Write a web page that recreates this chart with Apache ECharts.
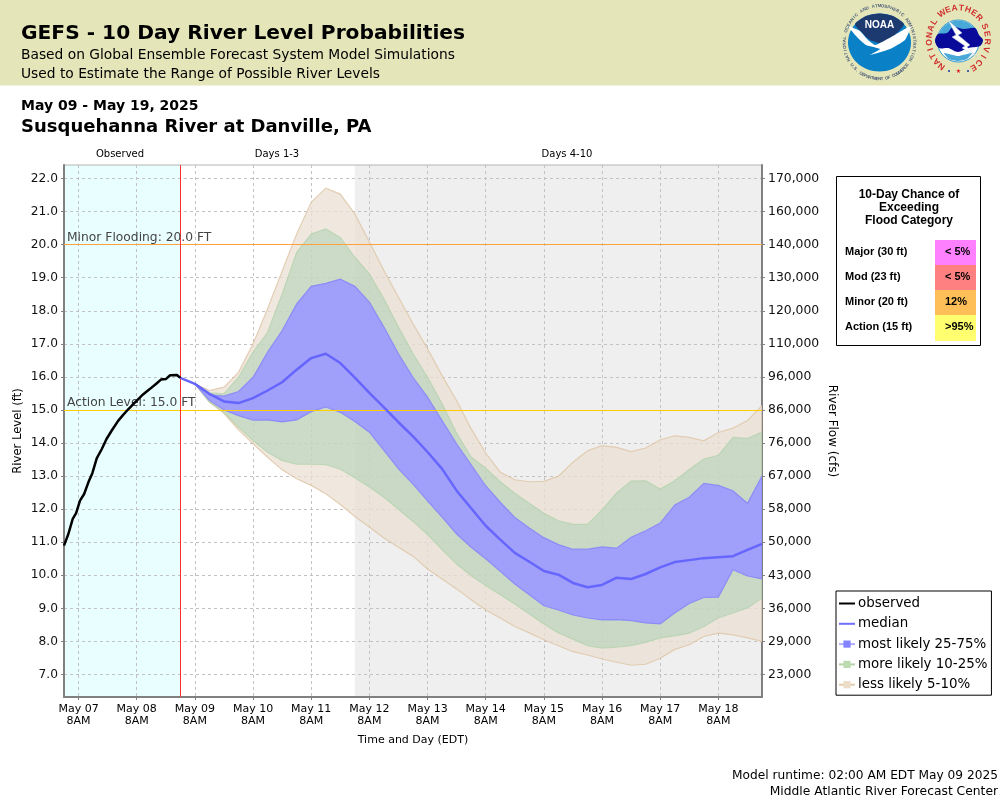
<!DOCTYPE html>
<html>
<head>
<meta charset="utf-8">
<title>GEFS River Level Probabilities</title>
<script src="https://cdn.jsdelivr.net/npm/echarts@6/dist/echarts.min.js"></script>
<style>
  html, body { margin: 0; padding: 0; background: #fff; }
  #chart { width: 1000px; height: 800px; }
</style>
</head>
<body>
<div id="chart"></div>
<script>
// x values are hours since May 07 02:00 EDT
var stageTicks = [7, 8, 9, 10, 11, 12, 13, 14, 15, 16, 17, 18, 19, 20, 21, 22];
var flowLabels = ["23,000", "29,000", "36,000", "43,000", "50,000", "58,000", "67,000", "76,000",
  "86,000", "96,000", "110,000", "120,000", "130,000", "140,000", "160,000", "170,000"];
var timeTicks = [6, 30, 54, 78, 102, 126, 150, 174, 198, 222, 246, 270];
var timeLabels = ["May 07\n8AM", "May 08\n8AM", "May 09\n8AM", "May 10\n8AM", "May 11\n8AM", "May 12\n8AM",
  "May 13\n8AM", "May 14\n8AM", "May 15\n8AM", "May 16\n8AM", "May 17\n8AM", "May 18\n8AM"];

var obsHours = [0, 1.8, 3.6, 5, 6.6, 8.3, 10.1, 11.7, 13.5, 15.6, 17.6, 19.7, 22.4, 24.5, 26.6, 29.3,
  32.6, 35.5, 38.3, 40, 42.1, 43.8, 46.6, 48];
var obsLevel = [10.9, 11.25, 11.71, 11.88, 12.26, 12.46, 12.82, 13.09, 13.54, 13.82, 14.13, 14.38, 14.68,
  14.86, 15.03, 15.23, 15.47, 15.64, 15.81, 15.92, 15.94, 16.05, 16.06, 15.97];

var fcstHours = [48, 54, 60, 66, 72, 78, 84, 90, 96, 102, 108, 114, 120, 126, 132, 138, 144, 150, 156, 162, 168,
  174, 180, 186, 192, 198, 204, 210, 216, 222, 228, 234, 240, 246, 252, 258, 264, 270, 276, 282, 288];
var tanTop = [15.97, 15.79, 15.59, 15.69, 16.14, 17.0, 18.06, 19.2, 20.32, 21.28, 21.71, 21.53, 20.93, 20.08,
  19.22, 18.41, 17.61, 16.85, 16.04, 15.28, 14.43, 13.7, 13.12, 12.89, 12.83, 12.84, 13.0, 13.42, 13.77, 13.92,
  13.87, 13.74, 13.85, 14.1, 14.22, 14.17, 14.07, 14.32, 14.45, 14.68, 15.13];
var greenTop = [15.97, 15.79, 15.52, 15.49, 15.99, 16.75, 17.35, 18.51, 19.77, 20.32, 20.48, 20.22, 19.62, 19.12,
  18.36, 17.51, 16.7, 15.99, 15.19, 14.3, 13.58, 13.24, 12.83, 12.48, 12.18, 11.88, 11.65, 11.54, 11.54, 11.98,
  12.49, 12.85, 12.86, 12.61, 12.86, 13.2, 13.52, 13.63, 14.17, 14.14, 14.34];
var blueTop = [15.97, 15.79, 15.46, 15.42, 15.56, 15.99, 16.75, 17.4, 18.21, 18.74, 18.83, 18.96, 18.74, 18.26,
  17.51, 16.7, 15.99, 15.39, 14.68, 13.98, 13.34, 12.71, 12.21, 11.75, 11.43, 11.14, 10.93, 10.79, 10.79, 10.86,
  10.82, 11.15, 11.35, 11.58, 12.13, 12.36, 12.78, 12.72, 12.56, 12.18, 13.0];
var median = [15.97, 15.79, 15.49, 15.26, 15.21, 15.36, 15.59, 15.84, 16.22, 16.57, 16.7, 16.42, 15.98, 15.52,
  15.08, 14.63, 14.2, 13.73, 13.22, 12.56, 12.03, 11.5, 11.08, 10.68, 10.41, 10.13, 10.02, 9.77, 9.64, 9.71,
  9.93, 9.89, 10.04, 10.24, 10.4, 10.46, 10.52, 10.55, 10.58, 10.77, 10.95];
var blueBottom = [15.97, 15.79, 15.29, 15.0, 14.83, 14.69, 14.7, 14.64, 14.7, 14.95, 15.09, 14.93, 14.65, 14.33,
  13.78, 13.22, 12.76, 12.25, 11.76, 11.25, 10.85, 10.5, 10.12, 9.74, 9.41, 9.08, 8.95, 8.8, 8.71, 8.65,
  8.66, 8.63, 8.56, 8.53, 8.86, 9.15, 9.33, 9.34, 10.17, 9.98, 9.89];
var greenBottom = [15.97, 15.79, 15.24, 14.93, 14.48, 14.08, 13.72, 13.47, 13.36, 13.36, 13.35, 13.21, 12.95, 12.67,
  12.36, 12.0, 11.63, 11.23, 10.78, 10.34, 9.99, 9.69, 9.41, 9.13, 8.83, 8.53, 8.26, 8.07, 7.87, 7.8,
  7.83, 7.87, 7.97, 8.11, 8.17, 8.25, 8.45, 8.71, 8.86, 9.01, 9.31];
var tanBottom = [15.97, 15.79, 15.24, 14.9, 14.4, 13.98, 13.57, 13.19, 12.92, 12.72, 12.47, 12.14, 11.78, 11.46,
  11.13, 10.85, 10.58, 10.19, 9.89, 9.59, 9.26, 8.95, 8.71, 8.45, 8.26, 8.05, 7.87, 7.69, 7.59, 7.47,
  7.37, 7.28, 7.31, 7.49, 7.76, 7.9, 8.15, 8.25, 8.2, 8.11, 8.0];

var floodLabels = ["Major (30 ft)", "Mod (23 ft)", "Minor (20 ft)", "Action (15 ft)"];
var floodChances = ["< 5%", "< 5%", "12%", ">95%"];
var floodColors = ["#ff80ff", "#ff8080", "#ffbf58", "#ffff70"];

var FONT = "DejaVu Sans";
var ARIAL = "Liberation Sans";
var chart = echarts.init(document.getElementById("chart"));

function text(x, y, str, size, opt) {
  opt = opt || {};
  return {
    type: "text", x: x, y: y, rotation: opt.rotation || 0, z: 10,
    style: {
      text: str, fill: opt.color || "#000", font: (opt.bold ? "bold " : "") + size + "px '" + (opt.family || FONT) + "'",
      align: opt.align || "left", verticalAlign: "middle", lineHeight: opt.lineHeight
    }
  };
}

// one character at a time around a circle, deg is clockwise from the top
function arcText(cx, cy, rx, ry, str, from, to, size, color, family, flip) {
  var out = [];
  for (var i = 0; i < str.length; i++) {
    if (str[i] === " ") continue;
    var deg = from + (to - from) * i / (str.length - 1);
    var rad = deg * Math.PI / 180;
    out.push(text(cx + rx * Math.sin(rad), cy - ry * Math.cos(rad), str[i], size, {
      color: color, bold: true, family: family, align: "center",
      rotation: flip ? (180 - deg) * Math.PI / 180 : -rad
    }));
  }
  return out;
}

function blob(points, fill, smooth, extra) {
  var style = { fill: fill };
  if (extra) { style.stroke = extra; style.lineWidth = 0.5; }
  return { type: "polygon", z: 9, shape: { points: points, smooth: smooth || 0 }, style: style };
}

function logoNoaa() {
  var els = [
    { type: "ellipse", z: 9, shape: { cx: 879.5, cy: 42.5, rx: 31.5, ry: 29 }, style: { fill: "#0a80c6" } },
    blob([[855, 24], [866, 16], [879.5, 13.5], [893, 16], [904, 24], [897, 33], [889, 39], [880, 43], [870, 40], [862, 33]], "#1d3a70", 0.2),
    blob([[848, 26], [860, 31], [868, 40], [875, 45], [880, 43], [893, 36], [911, 26], [905, 40], [890, 49], [870, 55], [880, 49], [866, 45], [857, 37]], "#fff", 0.15),
    text(879.5, 25, "NOAA", 10, { bold: true, color: "#fff", align: "center", family: ARIAL })
  ];
  return els
    .concat(arcText(879.5, 42.5, 35, 36.5, "NATIONAL OCEANIC AND ATMOSPHERIC ADMINISTRATION", -118, 118, 4.4, "#50607a", ARIAL))
    .concat(arcText(879.5, 42.5, 35, 36.5, "U.S. DEPARTMENT OF COMMERCE", 232, 128, 4.4, "#50607a", ARIAL, true));
}

function logoNws() {
  var els = [
    { type: "circle", z: 9, shape: { cx: 958.3, cy: 41, r: 21 }, style: { fill: "#fff", stroke: "#2f9ad0", lineWidth: 1 } },
    { type: "sector", z: 9, shape: { cx: 958.3, cy: 41, r: 20.5, startAngle: Math.PI, endAngle: 2 * Math.PI }, style: { fill: "#48a8d8" } },
    blob([[935, 41], [938, 34], [947, 33], [953, 27], [964, 29], [975, 28], [979, 35], [983, 40], [980, 46], [968, 48], [958, 52], [948, 48], [939, 48]], "#0a0a9a", 0.3),
    blob([[948, 20], [962, 33], [958, 35], [970, 45], [967, 47], [977, 57], [962, 48], [965, 46], [952, 37], [956, 35]], "#fff", 0, "#bbccdd"),
    blob([[944, 53], [958, 56], [972, 53], [967, 59], [958, 61], [949, 59]], "#48a8d8", 0.2),
    { type: "circle", z: 9, shape: { cx: 949, cy: 71, r: 1 }, style: { fill: "#1838a0" } },
    { type: "circle", z: 9, shape: { cx: 968, cy: 71, r: 1 }, style: { fill: "#1838a0" } },
    text(958.5, 71.5, "\u2605", 6, { color: "#d82020", align: "center" })
  ];
  return els
    .concat(arcText(958.3, 40, 29, 32, "NATIONAL", -145, -56, 8.5, "#d03030", ARIAL))
    .concat(arcText(958.3, 40, 29, 32, "WEATHER", -34, 46, 8.5, "#d03030", ARIAL))
    .concat(arcText(958.3, 40, 29, 32, "SERVICE", 65, 149, 8.5, "#d03030", ARIAL, false));
}

function floodBox() {
  var els = [
    { type: "rect", z: 9, shape: { x: 836.5, y: 176.5, width: 144, height: 169 }, style: { fill: "#fff", stroke: "#000", lineWidth: 1 } },
    text(909, 195, "10-Day Chance of", 12, { bold: true, family: ARIAL, align: "center" }),
    text(909, 208, "Exceeding", 12, { bold: true, family: ARIAL, align: "center" }),
    text(909, 221, "Flood Category", 12, { bold: true, family: ARIAL, align: "center" })
  ];
  floodLabels.forEach(function(label, i) {
    var top = 240 + i * 25;
    els.push({ type: "rect", z: 9, shape: { x: 935, y: top, width: 41, height: i === 3 ? 26 : 25 }, style: { fill: floodColors[i] } });
    els.push(text(845, top + 11.5, label, 11, { bold: true, family: ARIAL }));
    els.push(text(945, top + 11.5, floodChances[i], 11, { bold: true, family: ARIAL }));
  });
  return els;
}

// draw a whole band once, on its first data item, so the edges stay one shape
function bandRenderer(upper, lower, fill, stroke) {
  return function(params, api) {
    if (params.dataIndex !== 0) return null;
    var pts = [], i;
    for (i = 0; i < fcstHours.length; i++) pts.push(api.coord([fcstHours[i], upper[i]]));
    for (i = fcstHours.length - 1; i >= 0; i--) pts.push(api.coord([fcstHours[i], lower[i]]));
    return { type: "polygon", shape: { points: pts }, style: { fill: fill, stroke: stroke, lineWidth: 1.2 } };
  };
}

function bandSeries(upper, lower, fill, stroke, z) {
  return {
    type: "custom", name: "band" + z, z: z, silent: true, clip: true,
    renderItem: bandRenderer(upper, lower, fill, stroke),
    data: fcstHours.map(function(h, i) { return [h, upper[i], lower[i]]; })
  };
}

function legendKey(name, fill, line) {
  return {
    type: "line", name: name, data: [], symbol: "rect",
    itemStyle: { color: fill }, lineStyle: { color: line, width: 2 }
  };
}

function shadeSeries(data, color) {
  return {
    type: "custom", z: -1, silent: true,
    renderItem: function(params, api) {
      var a = api.coord([api.value(0), 22.41]), b = api.coord([api.value(1), 6.32]);
      return { type: "rect", shape: { x: a[0], y: a[1], width: b[0] - a[0], height: b[1] - a[1] }, style: { fill: color } };
    },
    data: data
  };
}

var gridDash = { color: "#c2c2c2", type: [3, 3], width: 1 };

var option = {
  animation: false,
  textStyle: { fontFamily: FONT },
  grid: {
    left: 64, right: 238, top: 165, bottom: 103, outerBoundsMode: "none",
    show: true, borderColor: "#b4b4b4", borderWidth: 1, backgroundColor: "transparent"
  },
  xAxis: {
    type: "value", min: 0, max: 288,
    name: "Time and Day (EDT)", nameLocation: "middle", nameGap: 38,
    nameTextStyle: { fontSize: 11, color: "#000" },
    axisLine: { lineStyle: { color: "#808080", width: 2 } },
    axisTick: { customValues: timeTicks, length: 3, lineStyle: { color: "#808080" } },
    axisLabel: {
      customValues: timeTicks, fontSize: 11, color: "#000", lineHeight: 12, margin: 6,
      formatter: function(v) { return timeLabels[timeTicks.indexOf(v)]; }
    },
    splitLine: { show: true, lineStyle: gridDash }
  },
  yAxis: [
    {
      type: "value", min: 6.32, max: 22.41, position: "left",
      name: "River Level (ft)", nameLocation: "middle", nameGap: 40, nameMoveOverlap: false,
      nameTextStyle: { fontSize: 11.6, color: "#000" },
      axisLine: { show: true, lineStyle: { color: "#808080", width: 2 } },
      axisTick: { show: true, customValues: stageTicks, length: 3, lineStyle: { color: "#808080" } },
      axisLabel: {
        customValues: stageTicks, fontSize: 12.2, color: "#111", margin: 6,
        formatter: function(v) { return v.toFixed(1); }
      },
      splitLine: { show: true, lineStyle: gridDash }
    },
    {
      type: "value", min: 6.32, max: 22.41, position: "right",
      name: "River Flow (cfs)", nameLocation: "middle", nameGap: 64, nameRotate: -90, nameMoveOverlap: false,
      nameTextStyle: { fontSize: 12, color: "#000" },
      axisLine: { show: true, lineStyle: { color: "#808080", width: 2 } },
      axisTick: { show: true, customValues: stageTicks, length: 3, lineStyle: { color: "#808080" } },
      axisLabel: {
        customValues: stageTicks, fontSize: 12.4, color: "#111", margin: 6,
        formatter: function(v) { return flowLabels[stageTicks.indexOf(v)]; }
      },
      splitLine: { show: false }
    }
  ],
  legend: {
    left: 836, top: 591, orient: "vertical", itemWidth: 16, itemHeight: 9, itemGap: 7.3,
    padding: [6, 4, 4, 2], backgroundColor: "#fff", borderColor: "#000", borderWidth: 1,
    selectedMode: false, textStyle: { fontSize: 13.4, color: "#000", padding: [0, 0, 0, -2] },
    data: [
      { name: "observed", itemStyle: { opacity: 0 } },
      { name: "median", itemStyle: { opacity: 0 } },
      "most likely 25-75%", "more likely 10-25%", "less likely 5-10%"
    ]
  },
  series: [
    shadeSeries([[0, 48]], "#e9ffff"),
    shadeSeries([[120, 288]], "#efefef"),
    bandSeries(tanTop, tanBottom, "rgba(235,224,211,0.75)", "rgba(222,196,165,0.8)", 2),
    bandSeries(greenTop, greenBottom, "rgba(162,203,173,0.45)", "rgba(175,210,170,0.7)", 3),
    bandSeries(blueTop, blueBottom, "rgba(155,153,255,0.9)", "rgba(130,130,250,0.8)", 4),
    {
      type: "line", name: "median", z: 6, symbol: "none", silent: true,
      lineStyle: { color: "rgba(95,95,255,0.9)", width: 2.5 }, itemStyle: { color: "#8c8cff" },
      data: fcstHours.map(function(h, i) { return [h, median[i]]; })
    },
    {
      type: "line", name: "observed", z: 7, symbol: "none", silent: true,
      lineStyle: { color: "#000", width: 2.5 }, itemStyle: { color: "#000" },
      data: obsHours.map(function(h, i) { return [h, obsLevel[i]]; }),
      markLine: {
        silent: true, symbol: "none", z: 5, animation: false,
        label: { position: "insideStartTop", distance: [3, 1], fontSize: 12.3, color: "#444" },
        data: [
          { yAxis: 20, lineStyle: { color: "#ffa23c", width: 1.2, type: "solid" }, label: { formatter: "Minor Flooding: 20.0 FT" } },
          { yAxis: 15, lineStyle: { color: "#ffcc00", width: 1.2, type: "solid" }, label: { formatter: "Action Level: 15.0 FT" } },
          { xAxis: 48, lineStyle: { color: "#ff3030", width: 1, type: "solid" }, label: { show: false } }
        ]
      }
    },
    legendKey("most likely 25-75%", "#8484ff", "#b0b0ff"),
    legendKey("more likely 10-25%", "#bcdcb0", "#b4d4a8"),
    legendKey("less likely 5-10%", "#ecdcc8", "#e4ccb0")
  ],
  graphic: {
    elements: [
      { type: "rect", z: 1, shape: { x: 0, y: 0, width: 1000, height: 85.5 }, style: { fill: "#e4e6b9" } },
      text(21, 34, "GEFS - 10 Day River Level Probabilities", 20.2, { bold: true }),
      text(21, 55, "Based on Global Ensemble Forecast System Model Simulations", 13.8),
      text(21, 74, "Used to Estimate the Range of Possible River Levels", 13.8),
      text(21, 106, "May 09 - May 19, 2025", 14, { bold: true }),
      text(21, 127, "Susquehanna River at Danville, PA", 18, { bold: true }),
      text(120, 154, "Observed", 10, { align: "center" }),
      text(277, 154, "Days 1-3", 10, { align: "center" }),
      text(567, 154, "Days 4-10", 10, { align: "center" }),
      text(998, 776, "Model runtime: 02:00 AM EDT May 09 2025", 12.2, { align: "right" }),
      text(998, 792, "Middle Atlantic River Forecast Center", 12.3, { align: "right" })
    ].concat(logoNoaa(), logoNws(), floodBox())
  }
};

chart.setOption(option);
</script>
</body>
</html>
